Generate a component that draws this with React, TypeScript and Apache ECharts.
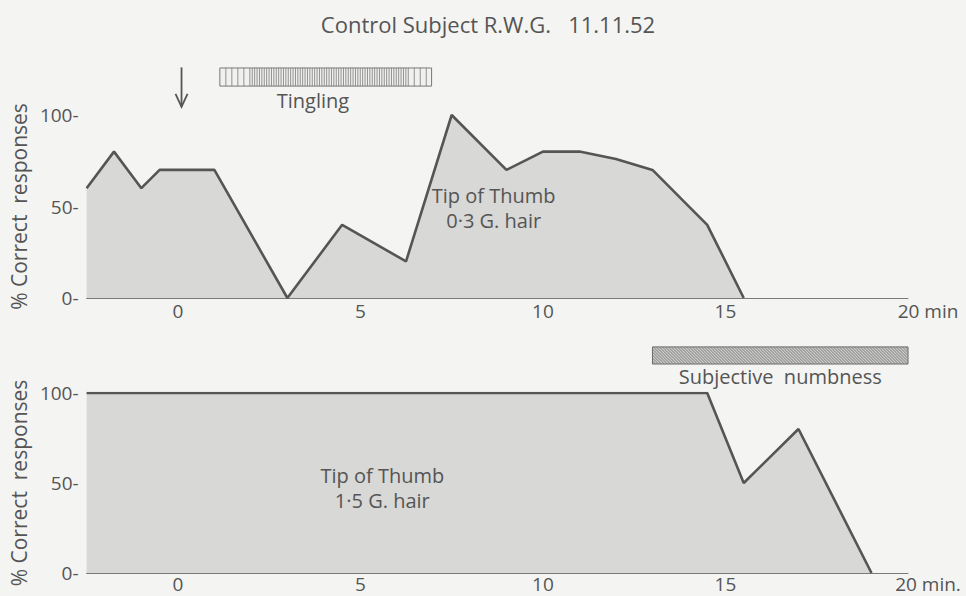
import React, { useEffect, useRef } from "react";
import * as echarts from "echarts";

// Top panel: Tip of Thumb, 0·3 G. hair
const topX = [-2.5, -1.75, -1, -0.5, 1, 3, 4.5, 6.25, 7.5, 9, 10, 11, 12, 13, 14.5, 15.5];
const topY = [60, 80, 60, 70, 70, 0, 40, 20, 100, 70, 80, 80, 76, 70, 40, 0];

// Bottom panel: Tip of Thumb, 1·5 G. hair
const bottomX = [-2.5, 14.5, 15.5, 17, 19];
const bottomY = [100, 100, 50, 80, 0];

const yTicks = [0, 50, 100];
const xLabelTicks = [0, 5, 10, 15, 20];

// Annotations (data units)
const tinglingSpan = [1.15, 6.95];
const numbnessSpan = [13.0, 20.0];
const arrowAt = 0.1;

const TEXT = "#555555";
const LINE = "#555555";
const FONT = "Open Sans";

export default function App() {
  const ref = useRef<HTMLDivElement>(null);
  useEffect(() => {
    document.body.style.margin = "0";
    const chart = echarts.init(ref.current!, null, { renderer: "svg" });
    const xAxisBase = (lastLabel: string, margin: number) => ({
      type: "value",
      min: -2.5,
      max: 20,
      interval: 2.5,
      splitLine: { show: false },
      axisTick: { show: false },
      axisLine: { lineStyle: { color: "#7a7a7a", width: 1 } },
      axisLabel: {
        margin,
        color: TEXT,
        fontSize: 19,
        fontFamily: FONT,
        showMinLabel: true,
        showMaxLabel: true,
        formatter: (v: number) => {
          if (v === 20) return `{r|20 ${lastLabel}}`;
          return xLabelTicks.includes(v) ? String(v) : "";
        },
        rich: {
          r: { padding: [0, 0, 0, 40], color: TEXT, fontSize: 19, fontFamily: FONT },
        },
      },
    });
    const yAxisBase = (gi: number) => ({
      type: "value",
      gridIndex: gi,
      min: 0,
      max: 100,
      interval: 50,
      splitLine: { show: false },
      axisTick: { show: false },
      axisLine: { show: false },
      axisLabel: {
        margin: 8,
        color: TEXT,
        fontSize: 19,
        fontFamily: FONT,
        formatter: (v: number) => (yTicks.includes(v) ? `${v}-` : ""),
      },
      name: "% Correct  responses",
      nameLocation: "middle",
      nameRotate: 90,
      nameGap: 54,
      nameTextStyle: { color: TEXT, fontSize: 21, fontFamily: FONT },
    });
    const seriesBase = {
      type: "line",
      showSymbol: false,
      symbol: "none",
      lineStyle: { color: LINE, width: 2.6 },
      areaStyle: { color: "#d8d8d6", opacity: 1 },
      z: 2,
    };
    chart.setOption({
      animation: false,
      backgroundColor: "#f4f4f2",
      title: {
        text: "Control Subject R.W.G.   11.11.52",
        left: 483,
        textAlign: "center",
        top: 8,
        textStyle: { color: TEXT, fontSize: 22, fontWeight: "normal", fontFamily: FONT },
      },
      grid: [
        { left: 84, width: 824, top: 115, height: 183 },
        { left: 84, width: 824, top: 393, height: 180 },
      ],
      xAxis: [
        { ...xAxisBase("min", 3), gridIndex: 0 },
        { ...xAxisBase("min.", 1), gridIndex: 1 },
      ],
      yAxis: [yAxisBase(0), yAxisBase(1)],
      series: [
        {
          ...seriesBase,
          name: "Tip of Thumb 0·3 G. hair",
          xAxisIndex: 0,
          yAxisIndex: 0,
          data: topX.map((x, i) => [x, topY[i]]),
        },
        {
          ...seriesBase,
          name: "Tip of Thumb 1·5 G. hair",
          xAxisIndex: 1,
          yAxisIndex: 1,
          data: bottomX.map((x, i) => [x, bottomY[i]]),
        },
      ],
    });

    const px = (gi: number, x: number, y: number) =>
      chart.convertToPixel({ gridIndex: gi } as any, [x, y]) as number[];

    const graphics: any[] = [];
    const textStyle = { fill: TEXT, fontSize: 20, fontFamily: FONT };

    // Tingling bar with vertical stripes
    const [t0x, t0y] = px(0, tinglingSpan[0], 125.7);
    const [t1x, t1y] = px(0, tinglingSpan[1], 115.8);
    graphics.push({
      type: "rect",
      shape: { x: t0x, y: t0y, width: t1x - t0x, height: t1y - t0y },
      style: { fill: "#f1f1ef", stroke: "#777", lineWidth: 1 },
    });
    const sparse = 24;
    for (let x = t0x + 6; x < t1x - 1; ) {
      graphics.push({
        type: "line",
        shape: { x1: x, y1: t0y, x2: x, y2: t1y },
        style: { stroke: "#7a7a7a", lineWidth: 0.8 },
      });
      const inDense = x > t0x + sparse && x < t1x - sparse;
      x += inDense ? 2.4 : 6;
    }
    const [tlx, tly] = px(0, 3.7, 108);
    graphics.push({
      type: "text",
      x: tlx,
      y: tly,
      style: { ...textStyle, text: "Tingling", align: "center", verticalAlign: "middle" },
    });

    // Arrow
    const [ax, ay0] = px(0, arrowAt, 126);
    const [, ay1] = px(0, arrowAt, 104.5);
    graphics.push({
      type: "line",
      shape: { x1: ax, y1: ay0, x2: ax, y2: ay1 },
      style: { stroke: LINE, lineWidth: 1.8 },
    });
    graphics.push({
      type: "polyline",
      shape: { points: [[ax - 6, ay1 - 13], [ax, ay1], [ax + 6, ay1 - 13]] },
      style: { stroke: LINE, lineWidth: 1.8, fill: "none" },
    });

    // Numbness bar with diagonal hatch
    const [n0x, n0y] = px(1, numbnessSpan[0], 125.6);
    const [n1x, n1y] = px(1, numbnessSpan[1], 116.1);
    const h = n1y - n0y;
    graphics.push({
      type: "rect",
      shape: { x: n0x, y: n0y, width: n1x - n0x, height: h },
      style: { fill: "#cacac8", stroke: "#6a6a6a", lineWidth: 1 },
    });
    for (let x0 = n0x - h; x0 < n1x; x0 += 3) {
      const xs = Math.max(x0, n0x);
      const xe = Math.min(x0 + h, n1x);
      if (xe <= xs) continue;
      graphics.push({
        type: "line",
        shape: { x1: xs, y1: n0y + (xs - x0), x2: xe, y2: n0y + (xe - x0) },
        style: { stroke: "#767676", lineWidth: 0.9 },
      });
    }
    const [nlx, nly] = px(1, 16.5, 109);
    graphics.push({
      type: "text",
      x: nlx,
      y: nly,
      style: { ...textStyle, text: "Subjective  numbness", align: "center", verticalAlign: "middle" },
    });

    // Panel labels
    const [l1x, l1y] = px(0, 8.65, 49);
    graphics.push({
      type: "text",
      x: l1x,
      y: l1y,
      z: 10,
      style: { ...textStyle, text: "Tip of Thumb\n0·3 G. hair", align: "center", verticalAlign: "middle", lineHeight: 25 },
    });
    const [l2x, l2y] = px(1, 5.6, 47);
    graphics.push({
      type: "text",
      x: l2x,
      y: l2y,
      z: 10,
      style: { ...textStyle, text: "Tip of Thumb\n1·5 G. hair", align: "center", verticalAlign: "middle", lineHeight: 25 },
    });

    chart.setOption({ graphic: graphics });
    return () => chart.dispose();
  }, []);
  return <div ref={ref} style={{ width: 966, height: 596 }} />;
}
